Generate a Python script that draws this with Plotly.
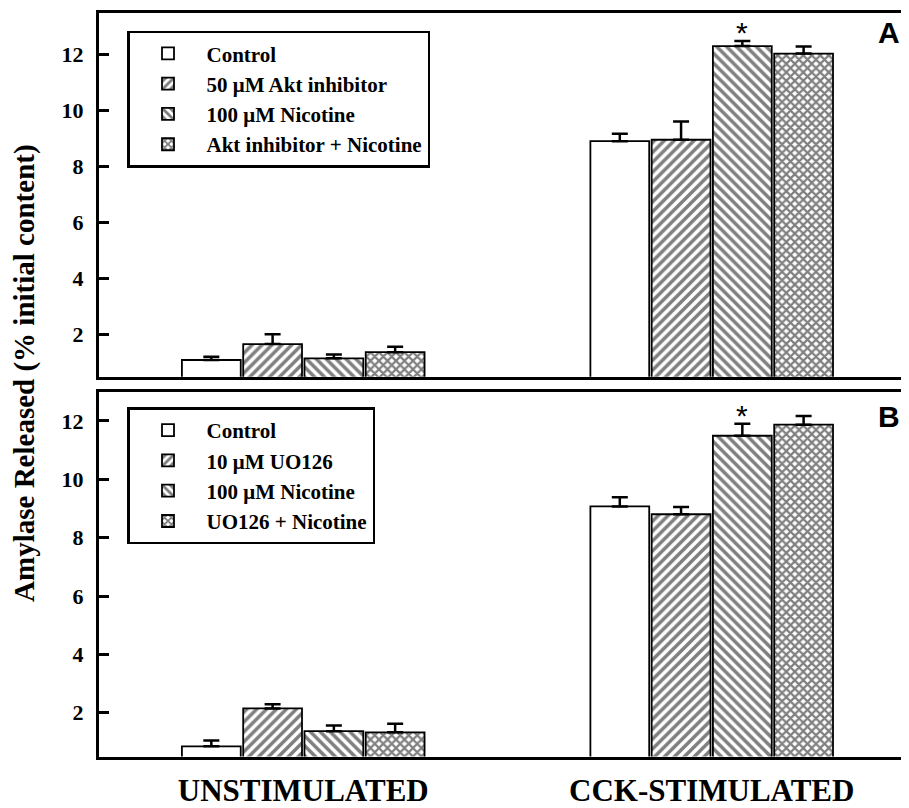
import plotly.graph_objects as go

categories = ["UNSTIMULATED", "CCK-STIMULATED"]

# Panel A
names_a = ["Control", "50 \u03bcM Akt inhibitor", "100 \u03bcM Nicotine", "Akt inhibitor + Nicotine"]
vals_a = [[1.10, 8.90], [1.67, 8.95], [1.16, 12.29], [1.38, 12.02]]
errs_a = [[0.12, 0.26], [0.35, 0.65], [0.14, 0.18], [0.19, 0.25]]

# Panel B
names_b = ["Control", "10 \u03bcM UO126", "100 \u03bcM Nicotine", "UO126 + Nicotine"]
vals_b = [[0.85, 9.07], [2.15, 8.80], [1.37, 11.49], [1.33, 11.87]]
errs_b = [[0.20, 0.31], [0.14, 0.25], [0.19, 0.41], [0.29, 0.30]]

yticks = [2, 4, 6, 8, 10, 12]
patterns = ["", "/", "\\", "x"]
pat_solid = [0.3, 0.5, 0.5, 0.6]
pat_size = [6, 7, 7, 6]

OFF = 8                      # page body margin
W, H = 909 - OFF, 808 - OFF
L = 99 - OFF
SERIF = "Liberation Serif"

def py(y):
    return 1 - (y - OFF) / H

def px(x):
    return (x - OFF - L) / (W - L)

fig = go.Figure()

def add_panel(names, vals, errs, xa, ya, leg, grp):
    for i in range(4):
        fig.add_trace(go.Bar(
            x=categories, y=vals[i], name=names[i],
            xaxis=xa, yaxis=ya, legend=leg, legendgroup=f"{grp}{i}",
            marker=dict(color="white", line=dict(color="black", width=1.8),
                        pattern=dict(shape=patterns[i], fgcolor="black", bgcolor="white",
                                     size=pat_size[i], solidity=pat_solid[i])),
            error_y=dict(type="data", symmetric=False, array=errs[i],
                         arrayminus=[0, 0], color="black", thickness=2.5, width=8),
        ))

add_panel(names_a, vals_a, errs_a, "x", "y", "legend", "a")
add_panel(names_b, vals_b, errs_b, "x2", "y2", "legend2", "b")

xr = [-0.5, 1.483]
tickfont = dict(family=SERIF, size=22, color="black", weight="bold")
yax_common = dict(tickvals=yticks, ticks="inside", ticklen=10, tickwidth=2.5,
                  tickcolor="black", showline=True, linewidth=3, linecolor="black",
                  showgrid=False, zeroline=False, tickfont=tickfont,
                  ticklabelstandoff=8)
xax_common = dict(range=xr, showline=True, mirror=True, linewidth=3, linecolor="black",
                  showgrid=False, zeroline=False, ticks="")

legend_common = dict(x=px(127), xanchor="left", yanchor="top",
                     bgcolor="white", bordercolor="black", borderwidth=2.5,
                     font=dict(family=SERIF, size=21, color="black", weight="bold"),
                     tracegroupgap=0, itemwidth=67)

fig.update_layout(
    width=W, height=H,
    margin=dict(l=L, r=0, t=0, b=0),
    paper_bgcolor="white", plot_bgcolor="white",
    barmode="group", bargap=0.4, bargroupgap=0.04,
    xaxis=dict(domain=[0, 1], anchor="y", showticklabels=False, **xax_common),
    xaxis2=dict(domain=[0, 1], anchor="y2", showticklabels=True,
                tickfont=dict(family=SERIF, size=31, color="black", weight="bold"),
                ticklabelstandoff=4, **xax_common),
    yaxis=dict(domain=[py(382), py(13)], range=[0.5, 13.47], anchor="x", **yax_common),
    yaxis2=dict(domain=[py(767), py(397)], range=[0.5, 13.0], anchor="x2", **yax_common),
    legend=dict(y=py(31), **legend_common),
    legend2=dict(y=py(413), **legend_common),
    showlegend=True,
)

star_x = 1 + (-0.3 + 0.15 * 2.5)
fig.add_annotation(x=star_x, y=vals_a[2][1] + errs_a[2][1], xref="x", yref="y",
                   text="*", showarrow=False, yanchor="bottom", yshift=-10,
                   font=dict(family="Liberation Sans", size=30, color="black"))
fig.add_annotation(x=star_x, y=vals_b[2][1] + errs_b[2][1], xref="x2", yref="y2",
                   text="*", showarrow=False, yanchor="bottom", yshift=-10,
                   font=dict(family="Liberation Sans", size=30, color="black"))

fig.add_annotation(x=px(889), y=py(33), xref="paper", yref="paper",
                   xanchor="center", yanchor="middle",
                   text="A", showarrow=False,
                   font=dict(family="Liberation Sans", size=30, color="black", weight="bold"))
fig.add_annotation(x=px(889), y=py(422), xref="paper", yref="paper",
                   xanchor="center", yanchor="middle",
                   text="B", showarrow=False,
                   font=dict(family="Liberation Sans", size=30, color="black", weight="bold"))

fig.add_annotation(x=px(25), y=py(378), xref="paper", yref="paper",
                   xanchor="center", yanchor="middle",
                   text="Amylase Released (% initial content)", textangle=-90,
                   showarrow=False,
                   font=dict(family=SERIF, size=29, color="black", weight="bold"))

fig.write_html("out.html")
